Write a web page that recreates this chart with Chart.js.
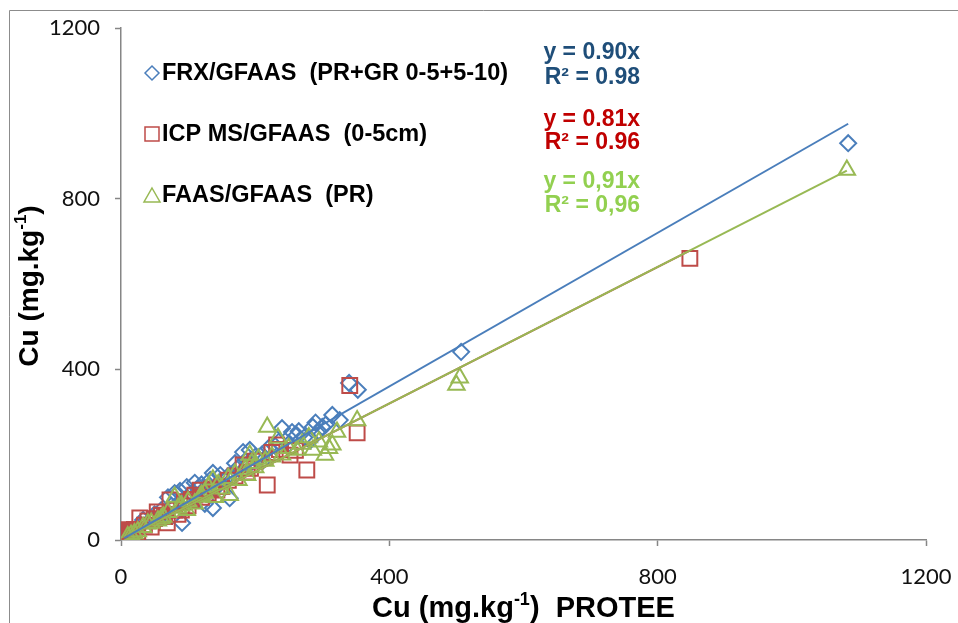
<!DOCTYPE html>
<html><head><meta charset="utf-8">
<script src="https://cdn.jsdelivr.net/npm/chart.js@4/dist/chart.umd.min.js"></script>
<style>html,body{margin:0;padding:0;background:#fff}</style>
</head><body>
<canvas id="c" width="958" height="623"></canvas>
<script>
// ---- data ----
const seriesNames = ['FRX/GFAAS  (PR+GR 0-5+5-10)', 'ICP MS/GFAAS  (0-5cm)', 'FAAS/GFAAS  (PR)'];
const seriesColors = ['#4A7EBB', '#BE4B48', '#98B954'];
const equationColors = ['#1F4E79', '#C00000', '#92D050'];
const equationLines = [['y = 0.90x', 'R² = 0.98'], ['y = 0.81x', 'R² = 0.96'], ['y = 0,91x', 'R² = 0,96']];
const trendSlopes = [0.90, 0.80, 0.80];
const axisTicks = [0, 400, 800, 1200];

const frxX = [1084, 507, 340, 353, 315, 326, 300, 286, 255, 240, 262, 273, 282, 230, 182, 192, 200, 212, 170, 148, 137, 155, 133, 120, 110, 98, 88, 80, 70, 162, 137, 125, 91, 60, 50, 45, 33, 30, 25, 20, 15, 10, 8, 5, 60, 75, 100, 105, 140, 145, 190, 180, 210, 250, 295, 305, 115, 125, 160, 175, 185, 205, 220, 235, 265, 290];
const frxY = [930, 441, 368, 352, 293, 281, 265, 265, 253, 262, 246, 240, 233, 220, 206, 211, 195, 187, 180, 152, 157, 140, 141, 130, 134, 124, 115, 110, 100, 98, 75, 85, 40, 70, 60, 48, 47, 35, 28, 22, 15, 12, 6, 4, 55, 80, 95, 110, 120, 130, 175, 160, 200, 225, 255, 270, 120, 115, 150, 170, 185, 190, 215, 230, 255, 275];

const icpX = [848, 341, 352, 277, 252, 232, 236, 218, 182, 188, 193, 143, 130, 118, 105, 95, 73, 54, 60, 28, 69, 40, 45, 35, 20, 15, 12, 10, 8, 5, 6, 3, 4, 10, 14, 2, 7, 18, 25, 50, 80, 85, 100, 1, 3, 6, 9, 120, 135, 150, 160, 170, 110, 90, 65, 200, 225, 260];
const icpY = [660, 362, 251, 164, 199, 223, 212, 129, 176, 159, 168, 117, 110, 117, 95, 90, 94, 66, 58, 52, 40, 45, 30, 35, 25, 20, 15, 10, 8, 5, 12, 3, 15, 18, 10, 8, 2, 12, 20, 50, 70, 60, 80, 1, 20, 24, 0, 100, 120, 125, 140, 150, 105, 70, 55, 185, 205, 210];

const faasX = [1082, 505, 500, 352, 218, 234, 322, 315, 304, 286, 262, 192, 188, 200, 162, 137, 150, 118, 80, 98, 63, 33, 40, 25, 15, 10, 70, 90, 110, 125, 130, 140, 175, 185, 195, 215, 240, 270, 295, 310, 55, 45, 20, 100, 120, 145, 160, 170, 205, 225, 250, 280, 60, 85];
const faasY = [867, 380, 363, 280, 265, 239, 253, 223, 199, 211, 211, 199, 152, 170, 105, 141, 120, 101, 101, 70, 54, 30, 38, 20, 12, 8, 65, 80, 85, 110, 125, 100, 140, 165, 180, 185, 200, 225, 230, 215, 45, 40, 15, 90, 105, 130, 145, 155, 190, 195, 215, 240, 50, 75];

const xTitleParts = [['Cu (mg.kg', 0], ['-1', 1], [')  PROTEE', 0]];
const yTitleParts = [['Cu (mg.kg', 0], ['-1', 1], [')', 0]];

// ---- build ----
function pts(xs, ys) { return xs.map((x, i) => ({x: x, y: ys[i]})); }
function trend(xs, slope) {
  const mn = Math.min(...xs), mx = Math.max(...xs);
  return [{x: mn, y: slope * mn}, {x: mx, y: slope * mx}];
}
const allX = [frxX, icpX, faasX];
const allY = [frxY, icpY, faasY];
const styles = ['rectRot', 'rect', 'triangle'];
const radii = [8, 10.5, 9.5];
const markerOrder = [5, 4, 3];
const trendOrder = [0, 2, 1];

const datasets = [];
for (let i = 0; i < 3; i++) {
  datasets.push({
    type: 'line', label: seriesNames[i] + ' trend', data: trend(allX[i], trendSlopes[i]),
    borderColor: seriesColors[i], borderWidth: 2, pointRadius: 0, fill: false, order: trendOrder[i]
  });
}
for (let i = 0; i < 3; i++) {
  datasets.push({
    type: 'scatter', label: seriesNames[i], data: pts(allX[i], allY[i]),
    pointStyle: styles[i], pointRadius: radii[i], pointHoverRadius: radii[i],
    borderColor: seriesColors[i], backgroundColor: 'rgba(0,0,0,0)', pointBorderWidth: 2, borderWidth: 2,
    order: markerOrder[i]
  });
}

const AXIS = '#868686';
function drawParts(ctx, parts, size, x, y, align) {
  const big = 'bold ' + size + 'px "Liberation Sans", Arial, sans-serif';
  const small = 'bold ' + Math.round(size * 0.62) + 'px "Liberation Sans", Arial, sans-serif';
  let w = 0;
  parts.forEach(p => { ctx.font = p[1] ? small : big; w += ctx.measureText(p[0]).width; });
  let cx = align === 'center' ? x - w / 2 : x;
  ctx.textAlign = 'left'; ctx.textBaseline = 'alphabetic';
  parts.forEach(p => {
    ctx.font = p[1] ? small : big;
    ctx.fillText(p[0], cx, p[1] ? y - size * 0.42 : y);
    cx += ctx.measureText(p[0]).width;
  });
}
function marker(ctx, style, x, y, r) {
  ctx.beginPath();
  if (style === 'rectRot') { ctx.moveTo(x - r, y); ctx.lineTo(x, y - r); ctx.lineTo(x + r, y); ctx.lineTo(x, y + r); ctx.closePath(); }
  else if (style === 'rect') { ctx.rect(x - r, y - r, 2 * r, 2 * r); }
  else { ctx.moveTo(x, y - r); ctx.lineTo(x + r * 1.0, y + r * 0.75); ctx.lineTo(x - r * 1.0, y + r * 0.75); ctx.closePath(); }
  ctx.stroke();
}

const decor = {
  id: 'decor',
  beforeDraw(chart) {
    const ctx = chart.ctx;
    ctx.save();
    ctx.fillStyle = '#fff'; ctx.fillRect(0, 0, chart.width, chart.height);
    ctx.strokeStyle = '#8c8c8c'; ctx.lineWidth = 1;
    ctx.beginPath(); ctx.moveTo(9.5, chart.height); ctx.lineTo(9.5, 10.5); ctx.lineTo(chart.width, 10.5); ctx.stroke();
    ctx.restore();
  },
  afterDraw(chart) {
    const ctx = chart.ctx, a = chart.chartArea;
    ctx.save();
    // axis titles
    ctx.fillStyle = '#000';
    drawParts(ctx, xTitleParts, 29, (a.left + a.right) / 2, 617, 'center');
    ctx.save();
    ctx.translate(37.5, (a.top + a.bottom) / 2 + 2);
    ctx.rotate(-Math.PI / 2);
    drawParts(ctx, yTitleParts, 28, 0, 0, 'center');
    ctx.restore();
    // legend
    const rowsY = [73, 134, 195];
    const mr = [7, 7, 8];
    for (let i = 0; i < 3; i++) {
      ctx.strokeStyle = seriesColors[i]; ctx.lineWidth = 1.5;
      marker(ctx, styles[i], 152, rowsY[i] + (i === 2 ? 1 : 0), mr[i]);
      ctx.fillStyle = '#000';
      ctx.font = 'bold 23.5px "Liberation Sans", Arial, sans-serif';
      ctx.textAlign = 'left'; ctx.textBaseline = 'middle';
      ctx.fillText(seriesNames[i], 162, rowsY[i] + 1);
    }
    // equations
    const eqY = [[53, 78], [120, 143], [182, 206]];
    ctx.font = 'bold 23px "Liberation Sans", Arial, sans-serif';
    ctx.textAlign = 'right'; ctx.textBaseline = 'middle';
    for (let i = 0; i < 3; i++) {
      ctx.fillStyle = equationColors[i];
      ctx.fillText(equationLines[i][0], 640, eqY[i][0]);
      ctx.fillText(equationLines[i][1], 640, eqY[i][1]);
    }
    ctx.restore();
  }
};

const tickFont = {family: 'Lato, "Liberation Sans", sans-serif', size: 22};
const tickText = v => String(v);
new Chart(document.getElementById('c'), {
  type: 'scatter',
  data: {datasets: datasets},
  options: {
    responsive: false, animation: false, devicePixelRatio: 1,
    layout: {padding: {left: 0, top: 28, right: 32, bottom: 0}},
    plugins: {legend: {display: false}, tooltip: {enabled: false}},
    scales: {
      x: {
        type: 'linear', min: 0, max: 1200,
        afterBuildTicks: s => { s.ticks = axisTicks.map(v => ({value: v})); },
        afterFit: s => { s.height = 83; s.paddingLeft = 0; s.paddingRight = 0; },
        ticks: {font: tickFont, color: '#111', padding: 18, maxRotation: 0, callback: tickText},
        grid: {drawOnChartArea: false, drawTicks: true, tickLength: 6, color: AXIS, tickColor: AXIS, tickWidth: 1.5},
        border: {color: AXIS, width: 1.5}
      },
      y: {
        type: 'linear', min: 0, max: 1200,
        afterBuildTicks: s => { s.ticks = axisTicks.map(v => ({value: v})); },
        afterFit: s => { s.width = 121; s.paddingTop = 0; s.paddingBottom = 0; },
        ticks: {font: tickFont, color: '#111', padding: 15, callback: tickText},
        grid: {drawOnChartArea: false, drawTicks: true, tickLength: 6, color: AXIS, tickColor: AXIS, tickWidth: 1.5},
        border: {color: AXIS, width: 1.5}
      }
    }
  },
  plugins: [decor]
});
</script>
</body></html>
